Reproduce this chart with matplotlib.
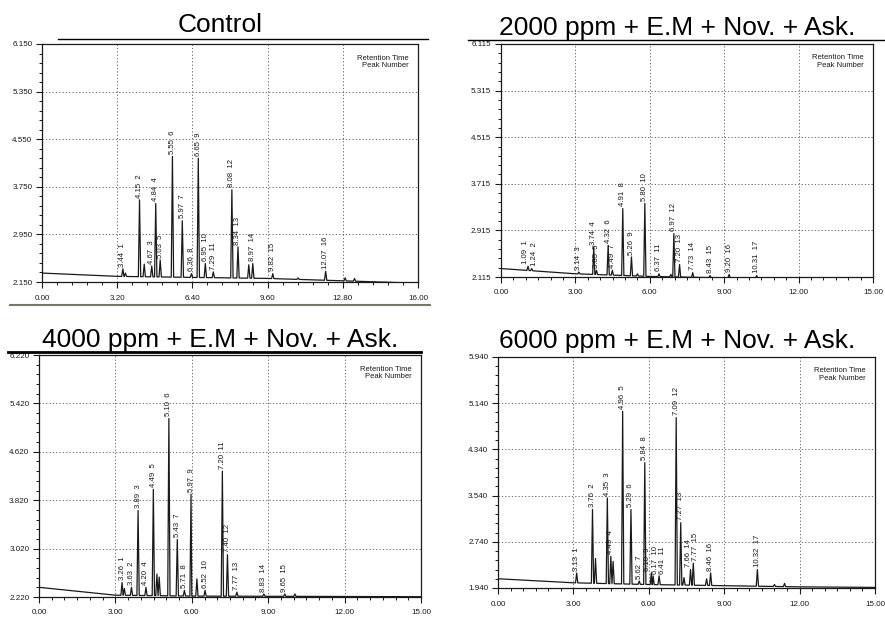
import matplotlib
matplotlib.use("Agg")
import matplotlib.pyplot as plt
import numpy as np
from matplotlib.ticker import MultipleLocator, AutoMinorLocator, FormatStrFormatter

plt.rcParams['font.family'] = ['Liberation Sans', 'DejaVu Sans']

W, H = 885, 617

titles = ["Control", "2000 ppm + E.M + Nov. + Ask.",
          "4000 ppm + E.M + Nov. + Ask.", "6000 ppm + E.M + Nov. + Ask."]

# Control
ctrl_rt = [3.44, 4.15, 4.67, 4.84, 5.03, 5.55, 5.97, 6.36, 6.65, 6.95, 7.29, 8.08, 8.34, 8.97, 9.82, 12.07]
ctrl_h = [2.37, 3.53, 2.42, 3.47, 2.52, 4.26, 3.18, 2.29, 4.23, 2.46, 2.32, 3.70, 2.74, 2.46, 2.29, 2.33]
ctrl_minor_rt = [3.55, 4.35, 8.80, 10.90, 12.90, 13.30]
ctrl_minor_h = [2.30, 2.45, 2.44, 2.22, 2.22, 2.21]
ctrl_base_x = [0, 3.2, 9.6, 16]
ctrl_base_y = [2.30, 2.245, 2.21, 2.13]

# 2000 ppm
p2000_rt = [1.09, 1.24, 3.14, 3.74, 3.85, 4.32, 4.49, 4.91, 5.26, 5.80, 6.37, 6.97, 7.20, 7.73, 8.43, 9.20, 10.31]
p2000_h = [2.30, 2.26, 2.20, 2.63, 2.23, 2.66, 2.23, 3.29, 2.46, 3.38, 2.17, 2.86, 2.33, 2.19, 2.14, 2.16, 2.14]
p2000_minor_rt = [5.50, 6.85]
p2000_minor_h = [2.17, 2.16]
p2000_base_x = [0, 3, 6, 9, 15]
p2000_base_y = [2.26, 2.17, 2.125, 2.10, 2.09]

# 4000 ppm
p4000_rt = [3.26, 3.63, 3.89, 4.20, 4.49, 5.10, 5.43, 5.71, 5.97, 6.52, 7.20, 7.40, 7.77, 8.83, 9.65]
p4000_h = [2.46, 2.38, 3.65, 2.38, 4.00, 5.17, 3.17, 2.33, 3.92, 2.33, 4.30, 2.92, 2.30, 2.27, 2.27]
p4000_minor_rt = [3.35, 4.63, 4.72, 6.20, 10.05]
p4000_minor_h = [2.36, 2.60, 2.55, 2.52, 2.27]
p4000_base_x = [0, 3, 6, 15]
p4000_base_y = [2.38, 2.25, 2.235, 2.225]

# 6000 ppm
p6000_rt = [3.13, 3.76, 4.35, 4.49, 4.96, 5.29, 5.62, 5.84, 6.10, 6.17, 6.41, 7.09, 7.27, 7.66, 7.77, 8.46, 10.32]
p6000_h = [2.20, 3.30, 3.50, 2.49, 5.00, 3.30, 2.06, 4.11, 2.20, 2.15, 2.15, 4.89, 3.07, 2.26, 2.37, 2.20, 2.26]
p6000_minor_rt = [3.88, 4.58, 7.40, 8.30, 11.00, 11.40]
p6000_minor_h = [2.45, 2.40, 2.12, 2.10, 2.00, 2.02]
p6000_base_x = [0, 3, 6, 12, 15]
p6000_base_y = [2.10, 2.03, 2.00, 1.96, 1.95]

panels = [
    (ctrl_rt, ctrl_h, ctrl_minor_rt, ctrl_minor_h, ctrl_base_x, ctrl_base_y),
    (p2000_rt, p2000_h, p2000_minor_rt, p2000_minor_h, p2000_base_x, p2000_base_y),
    (p4000_rt, p4000_h, p4000_minor_rt, p4000_minor_h, p4000_base_x, p4000_base_y),
    (p6000_rt, p6000_h, p6000_minor_rt, p6000_minor_h, p6000_base_x, p6000_base_y),
]

# layout in pixels: left, top, right, bottom
boxes = [(42, 44, 418, 282), (501, 44, 873, 277), (39, 355, 421, 597), (498, 357, 875, 588)]
xmax = [16, 15, 15, 15]
xstep = [3.2, 3.0, 3.0, 3.0]
xminor = [5, 6, 6, 6]
ymin = [2.150, 2.115, 2.220, 1.940]
title_pos = [(220, 32), (677, 35), (220, 347), (677, 348)]
# small sideways nudges for crowded peak labels: (panel, peak index) -> shift in minutes
label_nudge = {(1, 0): -0.10, (1, 1): 0.10,
               (3, 8): -0.15, (3, 9): 0.08, (3, 10): 0.12,
               (3, 13): -0.09, (3, 14): 0.10}

fig = plt.figure(figsize=(W / 100, H / 100), dpi=100)
ink = '#1a1a1a'

for i, (rt, h, mrt, mh, bx, by) in enumerate(panels):
    l, t, r, b = boxes[i]
    ax = fig.add_axes([l / W, 1 - b / H, (r - l) / W, (b - t) / H])
    w = 0.05 if i == 0 else 0.045

    # trace: baseline knots plus narrow triangular peaks
    all_rt = list(rt) + list(mrt)
    all_h = list(h) + list(mh)
    pts = [(x, np.interp(x, bx, by)) for x in bx]
    for p, ph in zip(all_rt, all_h):
        pts.append((p - w, np.interp(p - w, bx, by)))
        pts.append((p, ph))
        pts.append((p + w, np.interp(p + w, bx, by)))
    pts.sort(key=lambda q: q[0])
    ax.plot([q[0] for q in pts], [q[1] for q in pts], color=ink, lw=0.9)

    for k, (p, ph) in enumerate(zip(rt, h)):
        ax.text(p + label_nudge.get((i, k), 0.0), ph + 0.04, f"{p:.2f}  {k + 1}",
                rotation=90, ha='center', va='bottom', fontsize=5.6, color=ink)

    ax.set_xlim(0, xmax[i])
    ax.set_ylim(ymin[i], ymin[i] + 4.0)
    ax.xaxis.set_major_locator(MultipleLocator(xstep[i]))
    ax.xaxis.set_minor_locator(AutoMinorLocator(xminor[i]))
    ax.yaxis.set_major_locator(MultipleLocator(0.8, offset=ymin[i]))
    ax.yaxis.set_minor_locator(AutoMinorLocator(5))
    ax.xaxis.set_major_formatter(FormatStrFormatter('%.2f'))
    ax.yaxis.set_major_formatter(FormatStrFormatter('%.3f'))
    ax.tick_params(which='major', length=4, width=0.8, labelsize=5.8, colors=ink, pad=3)
    ax.tick_params(which='minor', length=2.5, width=0.7, colors=ink)
    ax.tick_params(axis='x', which='major', pad=5)
    ax.grid(True, which='major', ls=(0, (1.5, 2.5)), lw=0.6, color='#555555')
    for s in ax.spines.values():
        s.set_color(ink)
        s.set_linewidth(0.9)

    ax.text(0.975, 0.955, "Retention Time\nPeak Number", transform=ax.transAxes,
            ha='right', va='top', fontsize=5.5, color=ink, linespacing=1.1)

    tx, ty = title_pos[i]
    fig.text(tx / W, 1 - ty / H, titles[i], ha='center', va='baseline', fontsize=19, color='black')

# underline strokes from the scanned page
fig.add_artist(plt.Line2D([58 / W, 428 / W], [1 - 39 / H, 1 - 39 / H], color='black', lw=1.0))
fig.add_artist(plt.Line2D([468 / W, 885 / W], [1 - 40 / H, 1 - 40 / H], color='black', lw=1.0))
fig.add_artist(plt.Line2D([8 / W, 421 / W], [1 - 352 / H, 1 - 352 / H], color='black', lw=2.0))
fig.add_artist(plt.Line2D([10 / W, 430 / W], [1 - 305 / H, 1 - 305 / H], color='#777766', lw=1.5))

fig.savefig("out.png", dpi=100)
